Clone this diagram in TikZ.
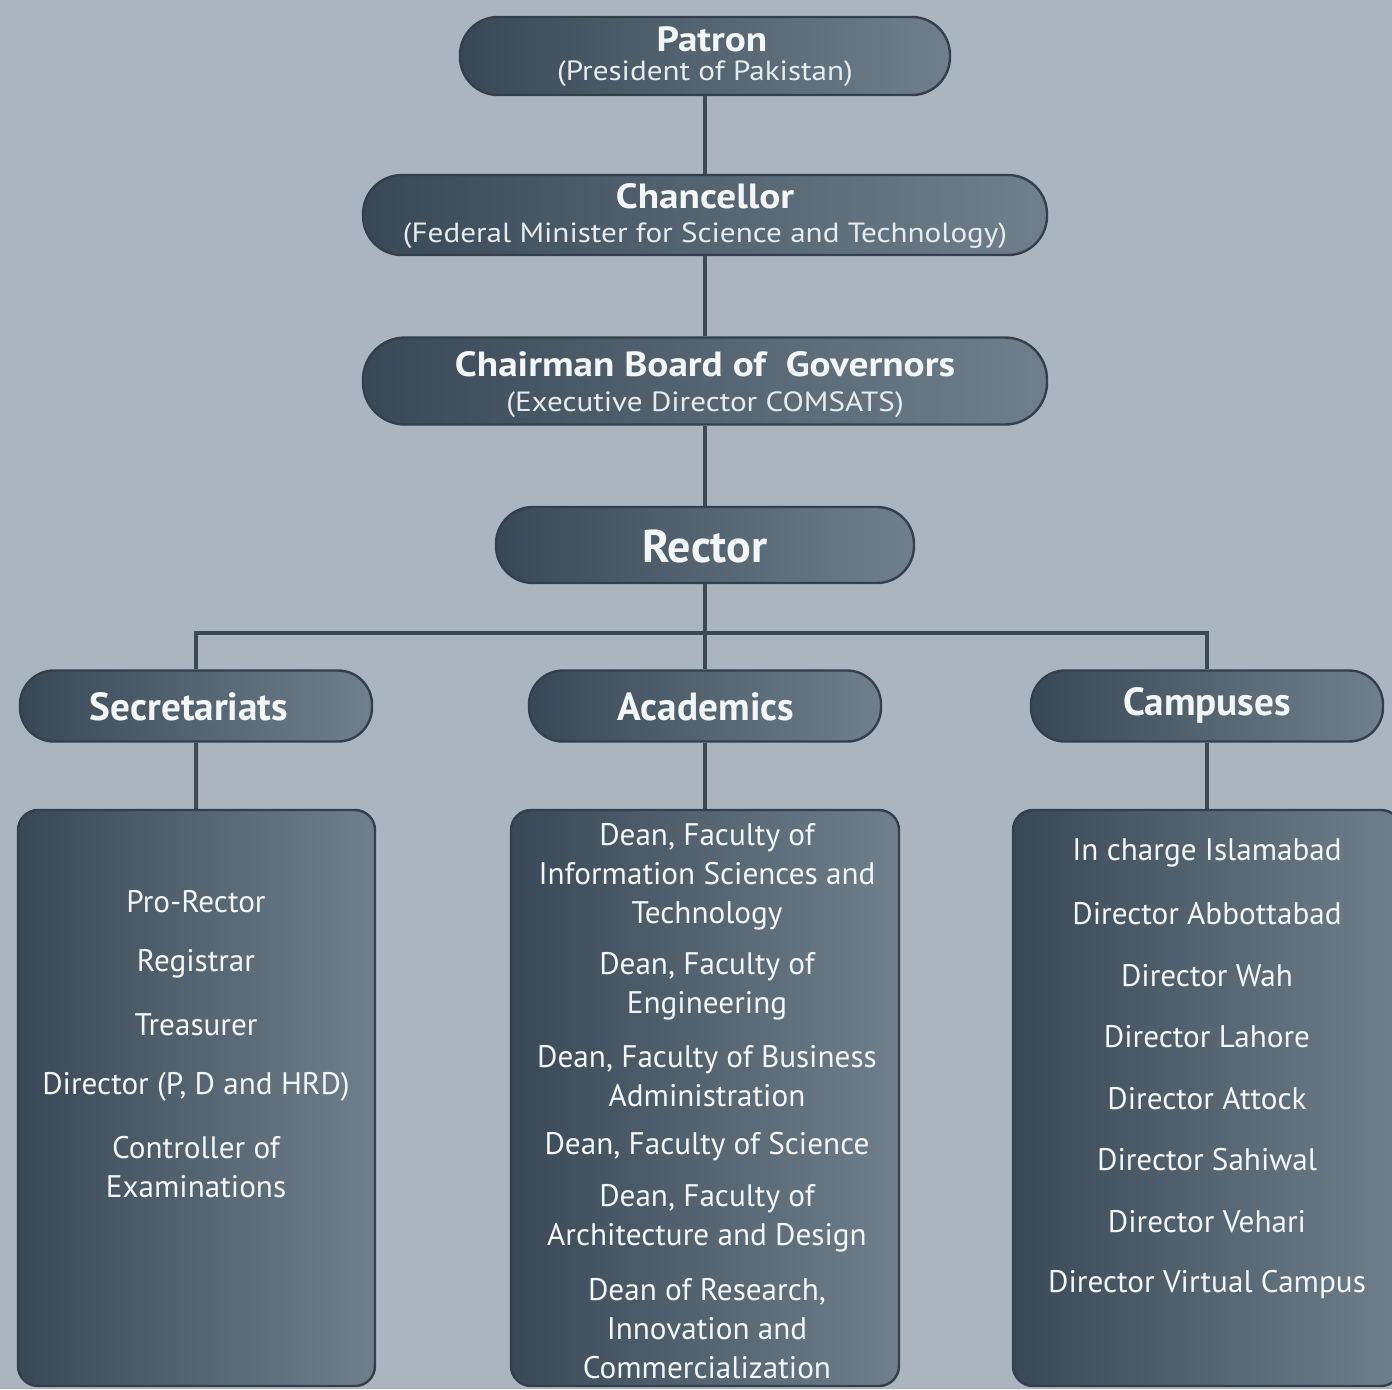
\documentclass[tikz,border=0pt]{standalone}
\usepackage{fontspec}
\setmainfont{PT Sans}
\newfontfamily\widefont{PT Sans}[FakeStretch=1.12]
\definecolor{bg}{HTML}{AAB5C0}
\definecolor{boxL}{HTML}{394856}
\definecolor{boxR}{HTML}{6F808C}
\definecolor{edge}{HTML}{33404C}
\definecolor{txt}{HTML}{F3F6F8}
\definecolor{subtxt}{HTML}{E6EBEE}
\definecolor{wire}{HTML}{3C4A56}
\pgfdeclarelayer{bgfill}
\pgfdeclarelayer{wires}
\pgfsetlayers{bgfill,wires,main}
\begin{document}
\begin{tikzpicture}[x=0.5pt,y=-0.5pt,
  pill/.style={draw=edge, line width=1.2pt, left color=boxL, right color=boxR, inner sep=0pt},
  listbox/.style={draw=edge, line width=1.2pt, left color=boxL, right color=boxR, inner sep=0pt, rounded corners=10pt, minimum height=288pt},
  ttl/.style={text=txt, font=\widefont\bfseries\fontsize{17.5}{20}\selectfont, inner sep=0pt, anchor=base},
  subt/.style={text=subtxt, font=\widefont\fontsize{13.9}{16}\selectfont, inner sep=0pt, anchor=base},
  head/.style={text=txt, font=\bfseries\fontsize{19.6}{22}\selectfont, inner sep=0pt},
  item/.style={text=txt, font=\fontsize{15.6}{19.5}\selectfont, align=center, inner sep=0pt},
  wireline/.style={draw=wire, line width=2pt}
]
\useasboundingbox (0,0) rectangle (1392,1389);
\begin{pgfonlayer}{bgfill}
\fill[bg] (0,0) rectangle (1392,1389);
\end{pgfonlayer}

% top chain
\node[pill, minimum width=245pt, minimum height=39pt, rounded corners=19pt] (patron) at (705,56) {};
\node[ttl] (patronT) at (712,51) {Patron};
\node[subt] (patronS) at (705,80) {(President of Pakistan)};

\node[pill, minimum width=342pt, minimum height=40pt, rounded corners=19.5pt] (chancellor) at (705,215) {};
\node[ttl] (chancT) at (705,208) {Chancellor};
\node[subt] (chancS) at (705,242) {(Federal Minister for Science and Technology)};

\node[pill, minimum width=342pt, minimum height=43.5pt, rounded corners=21pt] (chairman) at (705,381) {};
\node[ttl] (chairT) at (705,376) {Chairman Board of\ \ Governors};
\node[subt] (chairS) at (705,411) {(Executive Director COMSATS)};

\node[pill, minimum width=209pt, minimum height=38pt, rounded corners=18.5pt] (rector) at (705,545) {};
\node[text=txt, font=\bfseries\fontsize{23}{26}\selectfont, inner sep=0pt] (rectorT) at (705,546) {Rector};

% second level
\node[pill, minimum width=176pt, minimum height=35.5pt, rounded corners=17pt] (sec) at (196,706) {};
\node[head] (secT) at (189,707) {Secretariats};
\node[pill, minimum width=176pt, minimum height=35.5pt, rounded corners=17pt] (acad) at (705,706) {};
\node[head] (acadT) at (706,707) {Academics};
\node[pill, minimum width=176pt, minimum height=35.5pt, rounded corners=17pt] (camp) at (1207,706) {};
\node[head] (campT) at (1207,705) {Campuses};

% list boxes
\node[listbox, minimum width=178.5pt] (seclist) at (196.5,1098) {};
\node[listbox, minimum width=194pt] (acadlist) at (705,1098) {};
\node[listbox, minimum width=194pt] (camplist) at (1207,1098) {};

% secretariats items
\node[item] (s1) at (196,902) {Pro-Rector};
\node[item] (s2) at (196,964) {Registrar};
\node[item] (s3) at (196,1025) {Treasurer};
\node[item] (s4) at (196,1087) {Director (P, D and HRD)};
\node[item] (s5) at (196,1167.5) {Controller of\\Examinations};

% academics items
\node[item] (a1) at (707,876.5) {Dean, Faculty of\\Information Sciences and\\Technology};
\node[item] (a2) at (707,986) {Dean, Faculty of\\Engineering};
\node[item] (a3) at (707,1076.5) {Dean, Faculty of Business\\Administration};
\node[item] (a4) at (707,1147) {Dean, Faculty of Science};
\node[item] (a5) at (707,1218.5) {Dean, Faculty of\\Architecture and Design};
\node[item] (a6) at (707,1329) {Dean of Research,\\Innovation and\\Commercialization};

% campuses items
\node[item] (c1) at (1207,853) {In charge Islamabad};
\node[item] (c2) at (1207,914) {Director Abbottabad};
\node[item] (c3) at (1207,976) {Director Wah};
\node[item] (c4) at (1207,1037) {Director Lahore};
\node[item] (c5) at (1207,1099) {Director Attock};
\node[item] (c6) at (1207,1160) {Director Sahiwal};
\node[item] (c7) at (1207,1222) {Director Vehari};
\node[item] (c8) at (1207,1284) {Director Virtual Campus};

\coordinate (bus) at (705,633);

\begin{pgfonlayer}{wires}
\draw[wireline] (patron) -- (chancellor);
\draw[wireline] (chancellor) -- (chairman);
\draw[wireline] (chairman) -- (rector);
\draw[wireline] (rector) -- (bus);
\draw[wireline] (sec.north) |- (bus) -| (camp.north);
\draw[wireline] (bus) -- (acad);
\draw[wireline] (sec) -- (seclist);
\draw[wireline] (acad) -- (acadlist);
\draw[wireline] (camp) -- (camplist);
\end{pgfonlayer}
\end{tikzpicture}
\end{document}
